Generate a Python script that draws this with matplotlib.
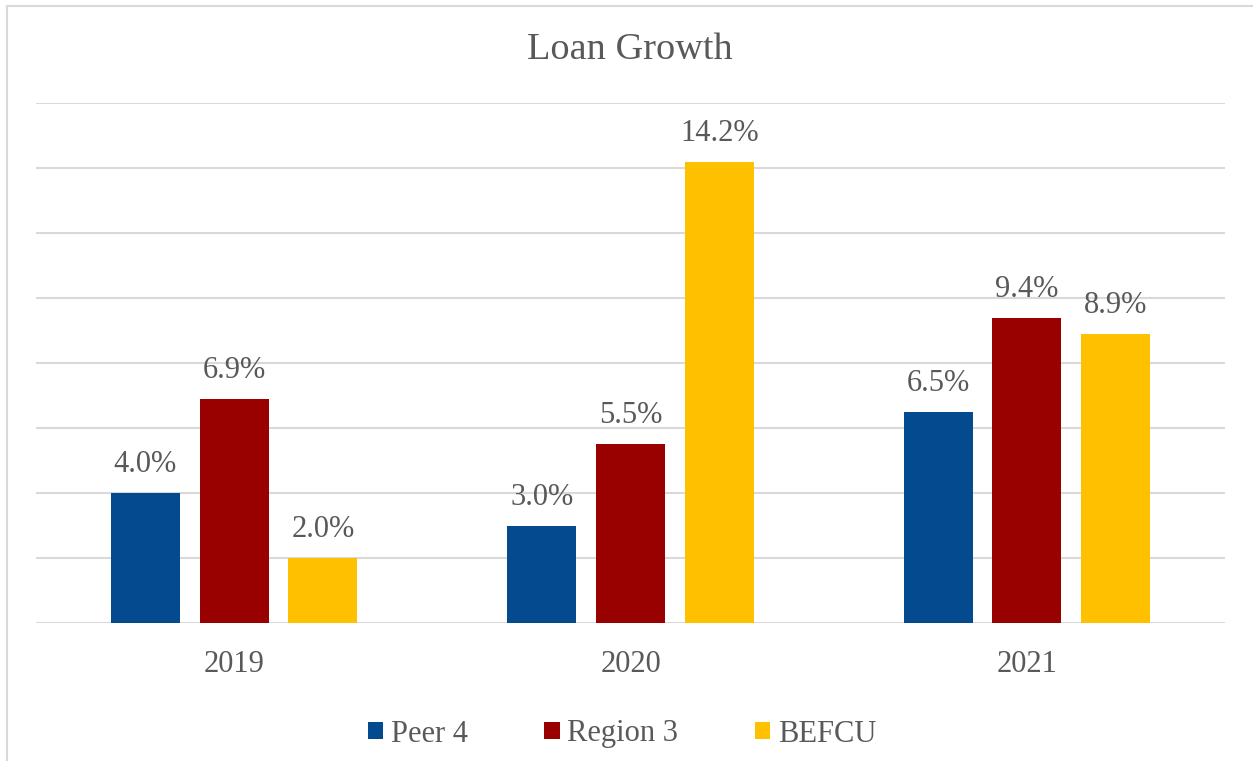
import matplotlib
matplotlib.use("Agg")
import matplotlib.pyplot as plt
from matplotlib.patches import Rectangle
import numpy as np

# chart data
years = ["2019", "2020", "2021"]
series_names = ["Peer 4", "Region 3", "BEFCU"]
peer4 = [4.0, 3.0, 6.5]
region3 = [6.9, 5.5, 9.4]
befcu = [2.0, 14.2, 8.9]
colors = ["#034A8F", "#990000", "#FFC000"]

text_color = "#595959"
grid_color = "#D9D9D9"
plt.rcParams["font.family"] = ["Liberation Serif", "DejaVu Serif"]

fig = plt.figure(figsize=(12.53, 7.61), dpi=100)
W, H = 1253, 761

# outer chart border (only top/left visible in the picture)
fig.patches.append(Rectangle((7 / W, -0.05), 1.2, 1 - 6 / H + 0.05,
                             transform=fig.transFigure, fill=False,
                             edgecolor=grid_color, linewidth=1.5))

ax = fig.add_axes([36 / W, (H - 623) / H, (1225 - 36) / W, (623 - 103) / H])

x = np.arange(len(years))
bar_w = 0.174
step = 0.224
for i, (name, vals) in enumerate(zip(series_names, [peer4, region3, befcu])):
    pos = x + (i - 1) * step
    bars = ax.bar(pos, vals, width=bar_w, color=colors[i], label=name, zorder=3)
    for b, v in zip(bars, vals):
        ax.annotate(f"{v:.1f}%", (b.get_x() + b.get_width() / 2, v),
                    xytext=(0, 10), textcoords="offset points",
                    ha="center", va="bottom", fontsize=22, color=text_color)

ax.set_xlim(-0.5, 2.5)
ax.set_ylim(0, 16)
ax.set_yticks(np.arange(0, 17, 2))
ax.yaxis.grid(True, color=grid_color, linewidth=1.5, zorder=0)
ax.tick_params(axis="y", left=False, labelleft=False)
ax.tick_params(axis="x", bottom=False, labelsize=22, labelcolor=text_color, pad=16)
ax.set_xticks(x)
ax.set_xticklabels(years)
for s in ax.spines.values():
    s.set_visible(False)

fig.text(630 / W, 1 - 50 / H, "Loan Growth", ha="center", va="center",
         fontsize=27.5, color=text_color)

fig.legend(loc="center", bbox_to_anchor=(622 / W, 1 - 734 / H), ncol=3,
           frameon=False, fontsize=22, labelcolor=text_color,
           handlelength=0.5, handleheight=0.5, handletextpad=0.25,
           columnspacing=2.5)

fig.savefig("out.png", dpi=100)
